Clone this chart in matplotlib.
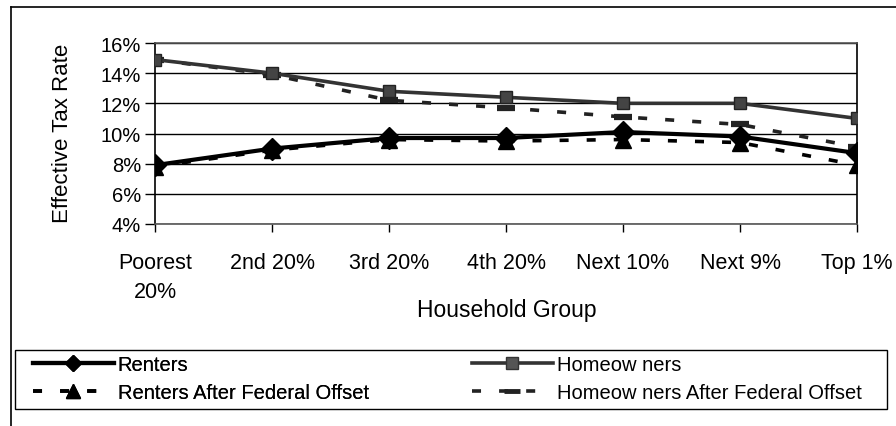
import matplotlib.pyplot as plt
from matplotlib.lines import Line2D
from matplotlib.patches import Rectangle
from matplotlib.ticker import FuncFormatter

# household groups and effective tax rates (%)
groups = ['Poorest\n20%', '2nd 20%', '3rd 20%', '4th 20%', 'Next 10%', 'Next 9%', 'Top 1%']
renters = [7.9, 9.0, 9.7, 9.7, 10.1, 9.8, 8.7]
homeowners = [14.9, 14.0, 12.8, 12.4, 12.0, 12.0, 11.0]
renters_offset = [7.8, 8.9, 9.6, 9.5, 9.6, 9.4, 7.9]
homeowners_offset = [14.9, 13.9, 12.2, 11.7, 11.1, 10.6, 9.1]

plt.rcParams['font.family'] = ['Liberation Sans', 'DejaVu Sans']

W, H = 896, 427
fig = plt.figure(figsize=(W / 100, H / 100), dpi=100)
ax = fig.add_axes([155/W, 1 - 225/H, (857 - 155)/W, (225 - 44)/H])

x = list(range(len(groups)))
DASH = (2.5, 5)

ax.plot(x, homeowners_offset, color='#222222', lw=2.6, dashes=DASH,
        marker='_', markersize=13, mew=4.5, zorder=3)
ax.plot(x, renters_offset, color='black', lw=2.6, dashes=DASH,
        marker='^', markersize=12, zorder=3)
ax.plot(x, homeowners, color='#333333', lw=2.6, marker='s', markersize=9,
        markerfacecolor='#444444', markeredgecolor='#222222', zorder=4)
ax.plot(x, renters, color='black', lw=3, marker='D', markersize=11, zorder=5)

ax.set_xlim(0, 6)
ax.set_ylim(4, 16)
ax.set_yticks(range(4, 17, 2))
ax.yaxis.set_major_formatter(FuncFormatter(lambda v, p: '%d%%' % v))
ax.set_xticks(x)
ax.set_xticklabels(groups, fontsize=15.5, linespacing=1.5, va='top')
ax.tick_params(axis='y', labelsize=14.5, length=7, width=1, pad=3)
ax.tick_params(axis='x', length=6, width=1, pad=14)
ax.grid(axis='y', color='black', lw=1)
ax.set_axisbelow(True)
for s in ax.spines.values():
    s.set_linewidth(1.2)
ax.spines['top'].set_color('#555555')
ax.spines['bottom'].set_color('#555555')

fig.text(63/W, 1 - 133/H, 'Effective Tax Rate', fontsize=16, rotation=90,
         ha='center', va='center')
fig.text(507/W, 1 - 310/H, 'Household Group', fontsize=16.5,
         ha='center', va='center')

# outer frame (left and top edges)
fig.add_artist(Line2D([11/W, 11/W], [0, 1 - 8/H], transform=fig.transFigure,
                      color='black', lw=1.2))
fig.add_artist(Line2D([11/W, 1], [1 - 8/H, 1 - 8/H], transform=fig.transFigure,
                      color='black', lw=1.2))

# legend box
fig.add_artist(Rectangle((15/W, 1 - 410/H), (887 - 15)/W, (410 - 351)/H,
                         transform=fig.transFigure, fill=False,
                         edgecolor='black', lw=1))

h_renters = Line2D([], [], color='black', lw=3, marker='D', markersize=8)
h_renters_off = Line2D([], [], color='black', lw=2.6, dashes=DASH, marker='^',
                       markersize=10)
h_home = Line2D([], [], color='#333333', lw=2.6, marker='s', markersize=8,
                markerfacecolor='#555555')
h_home_off = Line2D([], [], color='#222222', lw=2.6, dashes=DASH, marker='_',
                    markersize=11, mew=3.5)

leg_kw = dict(loc='upper left', fontsize=14.5, handlelength=4.0,
              handletextpad=0.2, borderpad=0, borderaxespad=0,
              frameon=False, labelspacing=0.45)
leg1 = fig.legend([h_renters, h_renters_off],
                  ['Renters', 'Renters After Federal Offset'],
                  bbox_to_anchor=(33/W, 1 - 356/H), **leg_kw)
fig.add_artist(leg1)
fig.legend([h_home, h_home_off],
           ['Homeow ners', 'Homeow ners After Federal Offset'],
           bbox_to_anchor=(472/W, 1 - 356/H), **leg_kw)

fig.savefig('out.png', dpi=100)
